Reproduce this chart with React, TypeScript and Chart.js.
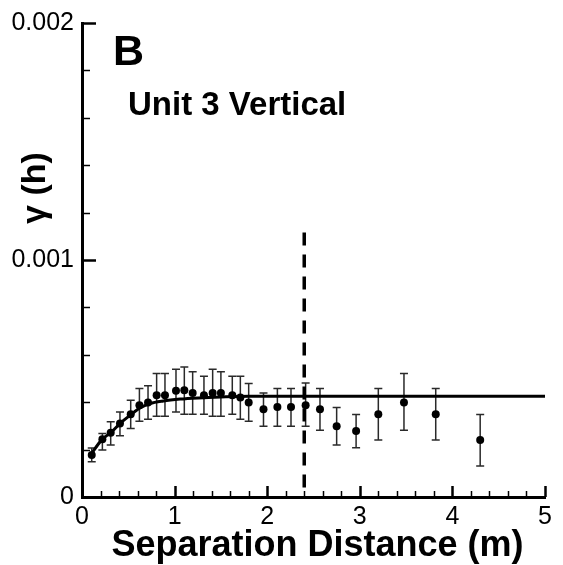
import React, { useEffect, useRef } from 'react';
import { Chart, registerables } from 'chart.js';

Chart.register(...registerables);

// Experimental semivariogram (lag distance in m, gamma(h))
const lagDistance = [0.105, 0.22, 0.31, 0.41, 0.526, 0.62, 0.713, 0.806, 0.896, 1.015, 1.105, 1.195, 1.317, 1.411, 1.5, 1.623, 1.71, 1.8, 1.96, 2.11, 2.257, 2.415, 2.57, 2.75, 2.96, 3.2, 3.477, 3.82, 4.3];
const gamma = [0.000177, 0.000244, 0.000271, 0.00031, 0.000349, 0.000387, 0.000399, 0.000429, 0.000429, 0.000448, 0.00045, 0.000439, 0.000429, 0.000439, 0.000439, 0.000429, 0.00042, 0.000399, 0.00037, 0.00038, 0.00038, 0.000387, 0.00037, 0.000299, 0.000279, 0.000349, 0.000399, 0.000349, 0.00024];
const gammaLow = [0.000149, 0.000198, 0.000219, 0.000258, 0.000289, 0.00032, 0.000328, 0.000341, 0.000341, 0.000359, 0.000349, 0.000349, 0.000349, 0.000341, 0.000341, 0.000349, 0.000328, 0.00032, 0.000299, 0.000299, 0.000299, 0.000299, 0.000282, 0.000219, 0.000208, 0.00024, 0.000282, 0.00024, 0.000131];
const gammaHigh = [0.000207, 0.000268, 0.000317, 0.000359, 0.000408, 0.000458, 0.000469, 0.000521, 0.000521, 0.000539, 0.000549, 0.000528, 0.000509, 0.000539, 0.000528, 0.000509, 0.000509, 0.000479, 0.000439, 0.000458, 0.000458, 0.000481, 0.000458, 0.000378, 0.000348, 0.000458, 0.000521, 0.000458, 0.000348];

// Fitted model curve
const modelX = [0.086, 0.21, 0.32, 0.41, 0.52, 0.626, 0.734, 0.878, 1.06, 1.256, 1.5, 1.8, 2.4, 5];
const modelY = [0.000173, 0.00024, 0.000275, 0.00031, 0.000345, 0.000376, 0.000394, 0.000405, 0.000413, 0.000418, 0.000422, 0.000425, 0.000425, 0.000425];

// Range marker (dashed vertical line)
const rangeX = [2.4, 2.4];
const rangeY = [0.001116, 0];

// Axes
const xTicks = [0, 1, 2, 3, 4, 5];
const yTicks = [0, 0.001, 0.002];

const panelLabel = 'B';
const subtitle = 'Unit 3 Vertical';
const xTitle = 'Separation Distance (m)';
const yTitle = 'γ (h)';

const TICK_FONT = "'Liberation Sans', Arial, sans-serif";
const BOLD_FONT = "'Liberation Sans', Arial, sans-serif";

const errorBarPlugin = {
  id: 'errorBars',
  beforeDatasetsDraw(chart: any) {
    const { ctx, scales } = chart;
    const xs = scales.x;
    const ys = scales.y;
    ctx.save();
    ctx.strokeStyle = '#2a2a2a';
    ctx.lineWidth = 1.5;
    for (let i = 0; i < lagDistance.length; i++) {
      const px = xs.getPixelForValue(lagDistance[i]);
      const pl = ys.getPixelForValue(gammaLow[i]);
      const ph = ys.getPixelForValue(gammaHigh[i]);
      ctx.beginPath();
      ctx.moveTo(px, pl);
      ctx.lineTo(px, ph);
      ctx.moveTo(px - 4, pl);
      ctx.lineTo(px + 4, pl);
      ctx.moveTo(px - 4, ph);
      ctx.lineTo(px + 4, ph);
      ctx.stroke();
    }
    ctx.restore();
  },
};

const innerTicksPlugin = {
  id: 'innerTicks',
  afterDraw(chart: any) {
    const { ctx, scales, chartArea } = chart;
    const xs = scales.x;
    const ys = scales.y;
    ctx.save();
    ctx.strokeStyle = '#000';
    for (let k = 1; k <= 25; k++) {
      const v = k * 0.2;
      const major = k % 5 === 0;
      const px = Math.round(xs.getPixelForValue(v)) + 0.5;
      ctx.lineWidth = major ? 2.5 : 1.5;
      ctx.beginPath();
      ctx.moveTo(px, chartArea.bottom);
      ctx.lineTo(px, chartArea.bottom - (major ? 11 : 6));
      ctx.stroke();
    }
    for (let k = 1; k <= 10; k++) {
      const v = k * 0.0002;
      const major = k % 5 === 0;
      const py = Math.round(ys.getPixelForValue(v)) + 0.5;
      ctx.lineWidth = major ? 2.5 : 1.5;
      ctx.beginPath();
      ctx.moveTo(chartArea.left, py);
      ctx.lineTo(chartArea.left + (major ? 14 : 8), py);
      ctx.stroke();
    }
    ctx.restore();
  },
};

const textPlugin = {
  id: 'texts',
  afterDraw(chart: any) {
    const { ctx, chartArea } = chart;
    ctx.save();
    ctx.fillStyle = '#000';
    ctx.textBaseline = 'alphabetic';
    ctx.textAlign = 'left';
    ctx.font = `bold 43px ${BOLD_FONT}`;
    ctx.fillText(panelLabel, 113, 65);
    ctx.font = `bold 33px ${BOLD_FONT}`;
    ctx.fillText(subtitle, 128, 115);
    ctx.textAlign = 'center';
    ctx.font = `bold 36px ${BOLD_FONT}`;
    ctx.fillText(xTitle, (chartArea.left + chartArea.right) / 2 + 4, 556);
    ctx.translate(45, 188);
    ctx.rotate(-Math.PI / 2);
    ctx.font = `bold 34px ${BOLD_FONT}`;
    ctx.fillText(yTitle, 0, 0);
    ctx.restore();
  },
};

export default function App() {
  const ref = useRef<HTMLCanvasElement>(null);
  useEffect(() => {
    const canvas = ref.current;
    if (!canvas) return;
    const chart = new Chart(canvas, {
      type: 'scatter',
      data: {
        datasets: [
          {
            label: 'Experimental',
            data: lagDistance.map((x, i) => ({ x, y: gamma[i] })),
            pointRadius: 4,
            pointHoverRadius: 4,
            backgroundColor: '#000',
            borderColor: '#000',
            borderWidth: 0,
          },
          {
            label: 'Model',
            data: modelX.map((x, i) => ({ x, y: modelY[i] })),
            showLine: true,
            pointRadius: 0,
            borderColor: '#000',
            borderWidth: 3,
            cubicInterpolationMode: 'monotone',
            fill: false,
          } as any,
          {
            label: 'Range',
            data: rangeX.map((x, i) => ({ x, y: rangeY[i] })),
            showLine: true,
            pointRadius: 0,
            borderColor: '#000',
            borderWidth: 3.5,
            borderDash: [13, 9],
            borderCapStyle: 'butt',
            fill: false,
          } as any,
        ],
      },
      options: {
        responsive: false,
        animation: false,
        devicePixelRatio: 1,
        events: [],
        layout: { padding: { top: 22, right: 18, left: 0, bottom: 0 } },
        plugins: { legend: { display: false }, tooltip: { enabled: false } },
        scales: {
          x: {
            type: 'linear',
            position: 'bottom',
            min: xTicks[0],
            max: xTicks[xTicks.length - 1],
            grid: { display: false, drawTicks: false },
            border: { display: true, color: '#000', width: 3 },
            afterBuildTicks: (s: any) => {
              s.ticks = xTicks.map((v) => ({ value: v }));
            },
            ticks: {
              color: '#000',
              padding: 5,
              maxRotation: 0,
              autoSkip: false,
              font: { family: TICK_FONT, size: 25 },
              callback: (v: any) => String(v),
            },
            afterFit: (s: any) => {
              s.height = 68;
            },
          },
          y: {
            type: 'linear',
            position: 'left',
            min: yTicks[0],
            max: yTicks[yTicks.length - 1],
            grid: { display: false, drawTicks: false },
            border: { display: true, color: '#000', width: 3 },
            afterBuildTicks: (s: any) => {
              s.ticks = yTicks.map((v) => ({ value: v }));
            },
            ticks: {
              color: '#000',
              padding: 8,
              autoSkip: false,
              font: { family: TICK_FONT, size: 25 },
              callback: (v: any) => (Number(v) === 0 ? '0' : Number(v).toFixed(3)),
            },
            afterFit: (s: any) => {
              s.width = 82;
            },
          },
        },
      },
      plugins: [errorBarPlugin, innerTicksPlugin, textPlugin],
    });
    return () => chart.destroy();
  }, []);
  return (
    <div style={{ position: 'absolute', left: 0, top: 0, width: 563, height: 565, background: '#fff' }}>
      <canvas ref={ref} width={563} height={565} style={{ display: 'block' }} />
    </div>
  );
}
